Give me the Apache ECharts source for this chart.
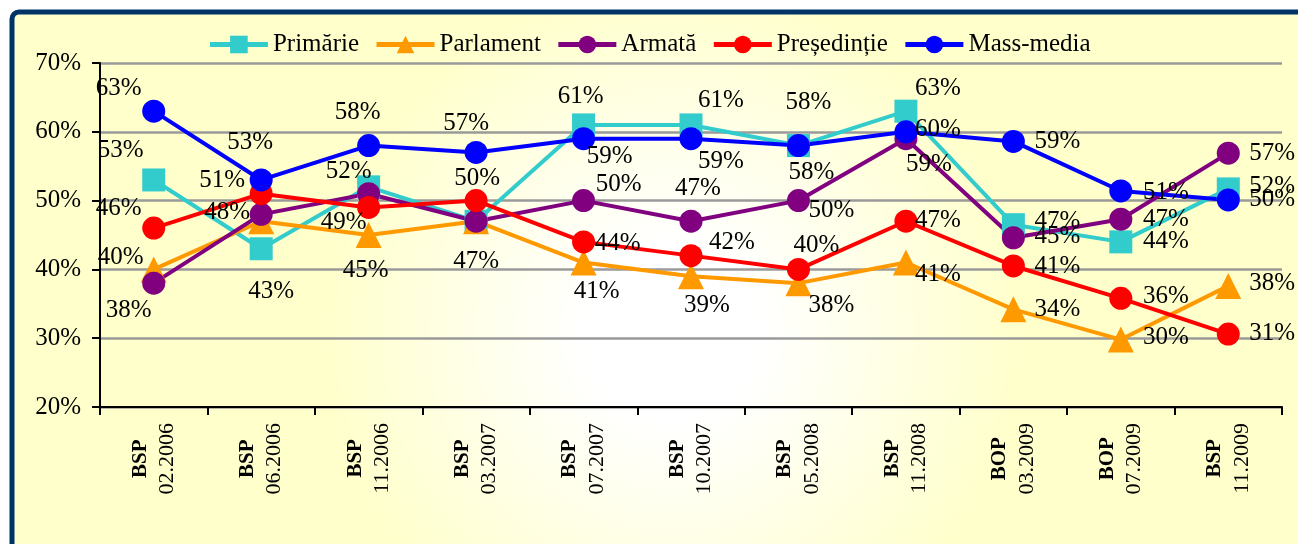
<!DOCTYPE html>
<html>
<head>
<meta charset="utf-8">
<script src="https://cdn.jsdelivr.net/npm/echarts@6/dist/echarts.min.js"></script>
<style>
  html, body { margin: 0; padding: 0; background: #fff; }
  #container { width: 1298px; height: 544px; }
</style>
</head>
<body>
<div id="container"></div>
<script>
// categorii (sondaje)
var categories = ['BSP\n02.2006', 'BSP\n06.2006', 'BSP\n11.2006', 'BSP\n03.2007', 'BSP\n07.2007',
  'BSP\n10.2007', 'BSP\n05.2008', 'BSP\n11.2008', 'BOP\n03.2009', 'BOP\n07.2009', 'BSP\n11.2009'];

// valori (%)
var primarie    = [53, 43, 52, 47, 61, 61, 58, 63, 46.5, 44, 51.7];
var parlament   = [40, 47, 45, 47, 41, 39, 38, 41, 34.2, 29.8, 37.6];
var armata      = [38, 48, 51, 47, 50, 47, 50, 59, 44.6, 47.3, 56.9];
var presedintie = [46, 51, 49, 50, 44, 42, 40, 47, 40.5, 35.8, 30.6];
var massMedia   = [63, 53, 58, 57, 59, 59, 58, 60, 58.6, 51.4, 50.1];

var yTicks = [20, 30, 40, 50, 60, 70];

// pozitia etichetelor fata de punct (null = fara eticheta)
var offPrimarie = [[-33,-30],[10,43],[-20,-15],null,[-3,-28],[30,-24],[10,-43],[32,-23],[44,-3],[45,0],[44,-2]];
var offParlament = [[-33,-12],null,[-3,35],[0,40],[13,29],[16,29],[33,22],[32,12],[44,0],[45,-2],[44,-2]];
var offArmata = [[-25,27],[-34,-2],null,null,[35,-16],[7,-33],[33,10],[23,26],[44,-1],[45,0],[44,0]];
var offPresedintie = [[-35,-20],[-39,-13],[-25,15],[1,-22],[34,2],[41,-13],[18,-24],[32,-1],[44,0],[45,-2],[44,-1]];
var offMassMedia = [[-35,-23],[-11,-38],[-11,-33],[-10,-29],[26,18],[30,23],[13,27],[32,-2],[44,0],[45,1],[44,0]];

var serif = 'Liberation Serif';

function mkData(values, offsets) {
  return values.map(function (v, i) {
    var o = offsets[i];
    if (!o) return { value: v, label: { show: false } };
    return { value: v, label: { offset: o } };
  });
}

function mkSeries(name, color, symbol, size, values, offsets) {
  return {
    name: name,
    type: 'line',
    data: mkData(values, offsets),
    symbol: symbol,
    symbolSize: size,
    lineStyle: { color: color, width: 4 },
    itemStyle: { color: color },
    animation: false,
    label: {
      show: true,
      position: 'inside',
      color: '#000',
      fontFamily: serif,
      fontSize: 25,
      formatter: function (p) { return Math.round(p.value) + '%'; }
    }
  };
}

var chart = echarts.init(document.getElementById('container'));

var option = {
  backgroundColor: '#fff',
  graphic: [{
    type: 'rect',
    z: -10,
    silent: true,
    shape: { x: 12, y: 12, width: 1320, height: 640, r: [7, 0, 0, 0] },
    style: {
      fill: new echarts.graphic.RadialGradient(0.5, 0.5, 0.9, [
        { offset: 0, color: '#ffffff' },
        { offset: 0.15, color: '#ffffff' },
        { offset: 0.6, color: '#ffffcc' },
        { offset: 1, color: '#ffffcc' }
      ]),
      stroke: '#003366',
      lineWidth: 5
    }
  }],
  legend: {
    top: 27,
    left: 'center',
    itemWidth: 58,
    itemHeight: 22,
    itemGap: 15,
    lineStyle: { width: 5 },
    textStyle: { fontFamily: serif, fontSize: 25, color: '#000' },
    data: ['Primărie', 'Parlament', 'Armată', 'Președinție', 'Mass-media']
  },
  grid: { left: 100, right: 16, top: 63, bottom: 137 },
  xAxis: {
    type: 'category',
    data: categories,
    boundaryGap: true,
    axisLine: { lineStyle: { color: '#000', width: 2 } },
    axisTick: { show: true, length: 8, lineStyle: { color: '#000', width: 2 } },
    axisLabel: {
      rotate: 90,
      margin: 16,
      interval: 0,
      formatter: function (v) {
        var p = v.split('\n');
        return '{b|' + p[0] + '}\n{d|' + p[1] + '}';
      },
      rich: {
        b: { fontFamily: serif, fontSize: 21, fontWeight: 'bold', color: '#000', align: 'center', lineHeight: 27 },
        d: { fontFamily: serif, fontSize: 22, color: '#000', align: 'center', lineHeight: 27 }
      }
    }
  },
  yAxis: {
    type: 'value',
    min: yTicks[0],
    max: yTicks[yTicks.length - 1],
    interval: 10,
    axisLine: { show: true, lineStyle: { color: '#000', width: 2 } },
    axisTick: { show: true, length: 8, lineStyle: { color: '#000', width: 2 } },
    axisLabel: {
      margin: 19,
      fontFamily: serif,
      fontSize: 25,
      color: '#000',
      formatter: '{value}%'
    },
    splitLine: { show: true, lineStyle: { color: '#9a9a9a', width: 2.5 } }
  },
  series: [
    mkSeries('Primărie', '#33cccc', 'rect', 23, primarie, offPrimarie),
    mkSeries('Parlament', '#ff9900', 'triangle', 26, parlament, offParlament),
    mkSeries('Armată', '#800080', 'circle', 23, armata, offArmata),
    mkSeries('Președinție', '#ff0000', 'circle', 23, presedintie, offPresedintie),
    mkSeries('Mass-media', '#0000ff', 'circle', 23, massMedia, offMassMedia)
  ]
};

chart.setOption(option);
</script>
</body>
</html>
